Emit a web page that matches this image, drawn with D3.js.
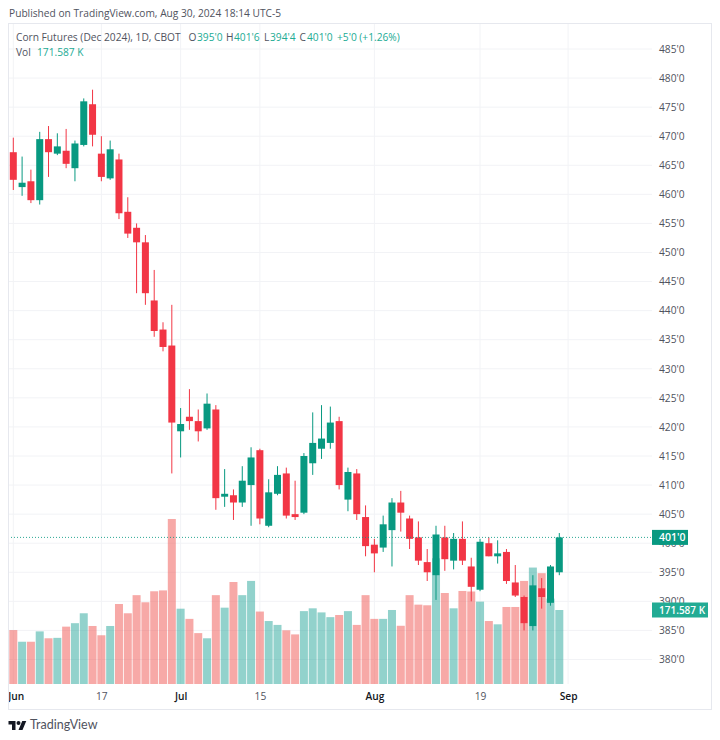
<!DOCTYPE html>
<html>
<head>
<meta charset="utf-8">
<script src="https://cdn.jsdelivr.net/npm/d3@7"></script>
<style>
  html, body { margin: 0; padding: 0; background: #fff; }
  svg { display: block; }
  text { font-family: "Open Sans", sans-serif; }
</style>
</head>
<body>
<script>
// daily bars, Jun 3 to Aug 30 2024
var opens = [467.25,461.25,462.25,459,469.5,467,467.5,464.5,468.5,475.5,467,462.75,466,457,454.25,451.75,441.75,436.75,434,419.25,421.75,421,419.75,423,408,408.25,407,410,416,403,408.5,412,405,405.25,413.75,416.25,417.25,421,407.5,412,404.5,399.75,399.25,402.25,407,404.25,401,396.75,394.5,401,397,400.75,396,392,400,397.75,398.5,393.25,390.75,385.75,392.25,389.75,395];
var highs = [469.75,466.5,464.25,470.75,471.75,470.5,471.25,469.25,476.5,478,470,469.25,467,459.5,455,453,447,438,441,423.25,426.5,423,425.75,423.75,412.75,409.25,413.25,416.5,416.25,411,413.25,413,410.75,415.5,422.5,423.75,423.5,421.75,413,412.75,406.5,400.75,404.75,407.75,409,404.75,403.75,399,403,403,401.75,403.75,397.5,400.75,401,400.5,399,396.25,391,394.5,394,396.25,401.75];
var lows = [460.75,459.75,458.5,458.25,463,466.75,464.5,462.25,468.25,468.25,462.25,462.5,455.75,452.5,443,441,435.5,433,412,414.75,419.5,417.5,419.5,405.75,406.25,404,406.25,403,403.25,402.75,408.25,404.25,404,405,411.75,414.5,416.25,409.25,405.5,404,397.75,395,398.5,396,402,399,396.25,393.5,390.25,395.25,395.5,396.25,390,391.75,397.75,396.5,393,390.75,385,385,388.75,389.25,394.5];
var closes = [462.5,462,459,469.5,467.25,468.25,465.25,468.75,476,470.25,463,467.75,456.75,453.25,451.75,443,436.5,433.75,420.75,420.5,421,419.25,424,407.75,408.5,407,410.75,414.75,404.25,408.75,411.75,404.75,404.5,415,417.25,418,420.75,410,412.25,405,399.5,398.25,403.25,407,405.25,400.75,397,395,401.5,397.25,400.75,397,392.5,400.25,397.75,398.25,393.5,391,386.25,392.75,390.75,396,401];
var volumes = [125,98,98,122,106,107,133,141,164,134.5,113,134.5,185.5,164,206,189.5,215,217,382.6,174.6,151,118,106,206,177,236.5,206,239,168,146,137,124.5,115,169,175.5,166,155,160,169,137,206,151,151,171.6,135,206,184,182.5,291.5,211,175.5,215.7,214.5,191,146,138.4,178.6,178.6,239,270,257,198,171.587];

var priceTicks = [485,480,475,470,465,460,455,450,445,440,435,430,425,420,415,410,405,400,395,390,385,380];
var timeTickIndex = [0,10,19,28,41,53,63];
var timeTickLabels = ["Jun","17","Jul","15","Aug","19","Sep"];
var monthLabels = ["Jun","Jul","Aug","Sep"];

var lastPrice = 401;
var lastVolume = 171.587;
var legendItems = [["O","395'0"],["H","401'6"],["L","394'4"],["C","401'0"]];

var upColor = "#089981", downColor = "#F23645";
var upVol = "rgba(38,166,154,0.5)", downVol = "rgba(239,83,80,0.5)";
var gridColor = "#F2F3F6", borderColor = "#E6E8EE", textColor = "#50535E", labelColor = "#22AB94";

var left = 8, right = 652, top_ = 23, plotBottom = 684, frameRight = 711, frameBottom = 709;

var svg = d3.select("body").append("svg").attr("width", 720).attr("height", 740);

var x = d3.scaleLinear().domain([0, 62]).range([13.3, 559.3]);
var y = d3.scaleLinear().domain([485, 380]).range([49, 659.5]);
var vol = d3.scaleLinear().domain([0, lastVolume]).range([plotBottom, 610]);

svg.append("defs").append("clipPath").attr("id", "plot")
  .append("rect").attr("x", left).attr("y", top_).attr("width", frameRight - left).attr("height", frameBottom - top_);

var days = d3.range(opens.length);

// grid
svg.append("g").selectAll("line").data(priceTicks).enter().append("line")
  .attr("x1", left).attr("x2", right)
  .attr("y1", function(d) { return y(d); }).attr("y2", function(d) { return y(d); })
  .attr("stroke", gridColor);
svg.append("g").selectAll("line").data(timeTickIndex).enter().append("line")
  .attr("x1", function(d) { return x(d); }).attr("x2", function(d) { return x(d); })
  .attr("y1", top_).attr("y2", plotBottom)
  .attr("stroke", gridColor);

// volume
svg.append("g").selectAll("rect").data(days).enter().append("rect")
  .attr("x", function(d) { return x(d) - 4; })
  .attr("width", 8)
  .attr("y", function(d) { return vol(volumes[d]); })
  .attr("height", function(d) { return plotBottom - vol(volumes[d]); })
  .attr("fill", function(d) { return closes[d] >= opens[d] ? upVol : downVol; });

// candles
var candles = svg.append("g").selectAll("g").data(days).enter().append("g")
  .attr("fill", function(d) { return closes[d] >= opens[d] ? upColor : downColor; })
  .attr("stroke", function(d) { return closes[d] >= opens[d] ? upColor : downColor; });
candles.append("line")
  .attr("x1", function(d) { return x(d); }).attr("x2", function(d) { return x(d); })
  .attr("y1", function(d) { return y(highs[d]); }).attr("y2", function(d) { return y(lows[d]); });
candles.append("rect")
  .attr("stroke", "none")
  .attr("x", function(d) { return x(d) - 3.5; })
  .attr("width", 7)
  .attr("y", function(d) { return y(Math.max(opens[d], closes[d])); })
  .attr("height", function(d) { return Math.abs(y(opens[d]) - y(closes[d])); });

// last price line
svg.append("line")
  .attr("x1", left).attr("x2", right)
  .attr("y1", y(lastPrice)).attr("y2", y(lastPrice))
  .attr("stroke", upColor).attr("stroke-opacity", 0.85).attr("stroke-dasharray", "1 2");

// axes
var priceAxis = d3.axisRight(y).tickValues(priceTicks).tickSize(0).tickPadding(0)
  .tickFormat(function(d) { return d + "'0"; });
svg.append("g").attr("transform", "translate(" + (right + 7) + ",0)").call(priceAxis)
  .call(function(g) { g.select(".domain").remove(); })
  .selectAll("text").attr("font-size", 10.2).attr("fill", textColor)
  .style("font-family", '"Open Sans", sans-serif');

var timeAxis = d3.axisBottom(x).tickValues(timeTickIndex).tickSize(0).tickPadding(0)
  .tickFormat(function(d, i) { return timeTickLabels[i]; });
svg.append("g").attr("clip-path", "url(#plot)")
  .append("g").attr("transform", "translate(0,693)").call(timeAxis)
  .call(function(g) { g.select(".domain").remove(); })
  .selectAll("text").attr("font-size", 10.2)
  .attr("dx", function(d, i) { return i === 0 ? 2.5 : 0; })
  .attr("font-weight", function(d, i) { return monthLabels.indexOf(timeTickLabels[i]) >= 0 ? 600 : 400; })
  .attr("fill", function(d, i) { return monthLabels.indexOf(timeTickLabels[i]) >= 0 ? "#131722" : textColor; })
  .style("font-family", '"Open Sans", sans-serif');

// price and volume labels on the axis
function bubble(cy, w, fill, label, size) {
  svg.append("rect").attr("x", right).attr("y", cy - 7.5).attr("width", w).attr("height", 15).attr("fill", fill);
  svg.append("text").attr("x", right + 7).attr("y", cy + 4).attr("font-size", size).attr("font-weight", 600)
    .attr("fill", "#fff").text(label);
}
bubble(y(lastPrice), 36, upColor, "401'0", 10.5);
bubble(vol(lastVolume), 56, labelColor, "171.587 K", 10);

// frame
svg.append("rect").attr("x", left + 0.5).attr("y", top_ + 0.5)
  .attr("width", frameRight - left).attr("height", frameBottom - top_)
  .attr("fill", "none").attr("stroke", borderColor);

// header
svg.append("text").attr("x", 9).attr("y", 17).attr("font-size", 10.2).attr("fill", textColor)
  .text("Published on TradingView.com, Aug 30, 2024 18:14 UTC-5");

// legend
svg.append("text").attr("x", 16).attr("y", 41).attr("font-size", 10.2).attr("fill", textColor)
  .text("Corn Futures (Dec 2024), 1D, CBOT");
var legendX = [188.5, 226, 264, 299.5];
var legendValX = [197, 234, 270, 307];
legendItems.forEach(function(d, i) {
  svg.append("text").attr("x", legendX[i]).attr("y", 41).attr("font-size", 10.2).attr("fill", textColor).text(d[0]);
  svg.append("text").attr("x", legendValX[i]).attr("y", 41).attr("font-size", 10.2).attr("fill", labelColor).text(d[1]);
});
svg.append("text").attr("x", 337).attr("y", 41).attr("font-size", 10.2).attr("fill", labelColor).text("+5'0 (+1.26%)");
svg.append("text").attr("x", 16).attr("y", 56).attr("font-size", 10.2).attr("fill", textColor).text("Vol");
svg.append("text").attr("x", 37).attr("y", 56).attr("font-size", 10.2).attr("fill", labelColor).text("171.587 K");

// logo
var logo = svg.append("g").attr("transform", "translate(8.5,719) scale(0.5)").attr("fill", "#131722");
logo.append("path").attr("d", "M14 22H7V11H0V4h14v18zM28 22h-8l7.5-18h8L28 22z");
logo.append("circle").attr("cx", 20).attr("cy", 8).attr("r", 4);
svg.append("text").attr("x", 30).attr("y", 729).attr("font-size", 12.5).attr("fill", "#50535E")
  .style("font-family", "Lato, sans-serif").text("TradingView");
</script>
</body>
</html>
